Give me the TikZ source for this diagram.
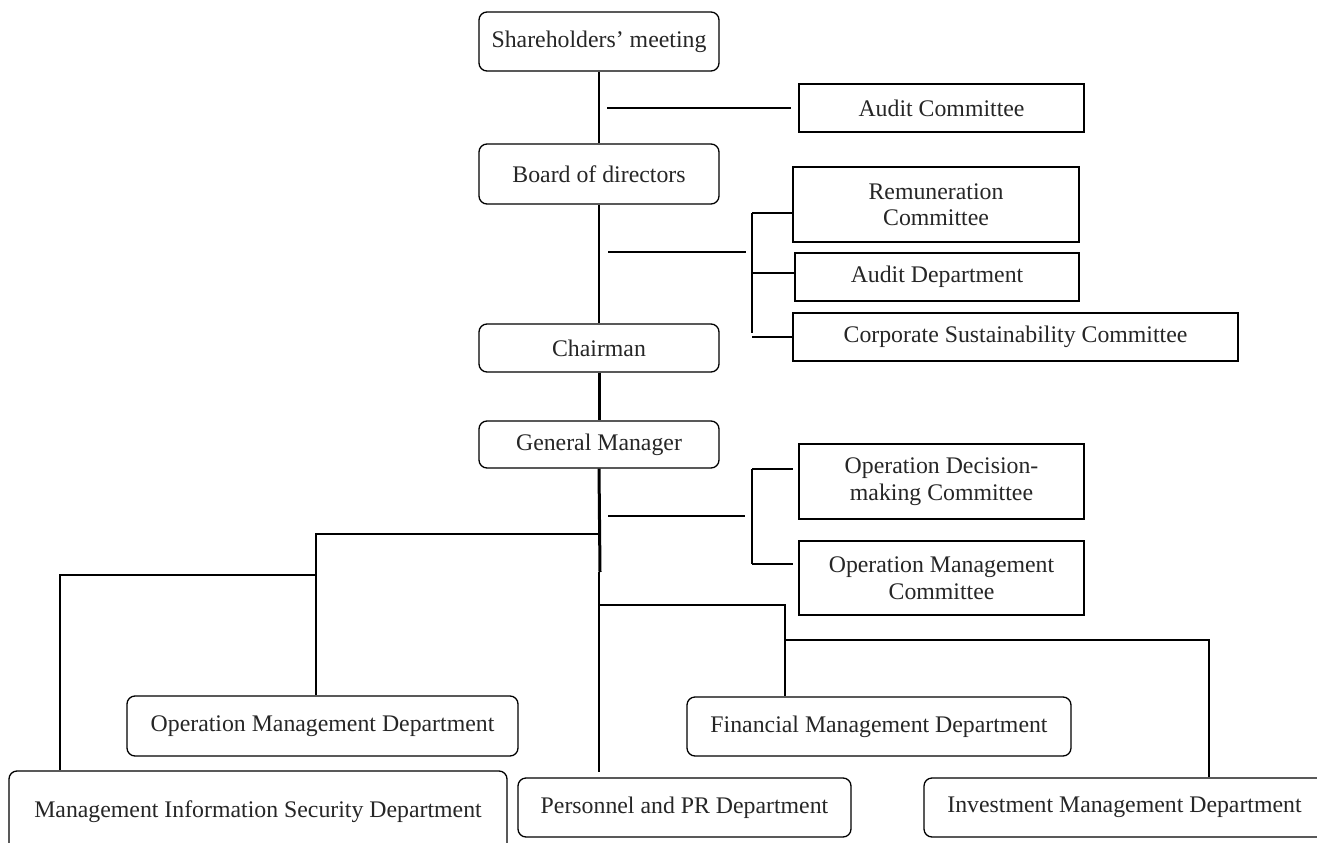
\documentclass[tikz,border=0pt]{standalone}
\usepackage{fontspec}
\setmainfont{Liberation Serif}
\begin{document}
\begin{tikzpicture}[x=1pt,y=-1pt,
  every node/.style={font=\fontsize{23.8}{26.5}\selectfont, align=center, inner sep=0pt, text=black!85},
  rbox/.style={draw, line width=1.3pt, rounded corners=8pt},
  sbox/.style={draw, line width=1.3pt},
  conn/.style={line width=1.3pt},
  thickconn/.style={line width=3pt}]
\clip (0,0) rectangle (1317,843);
\fill[white] (0,0) rectangle (1317,843);
% nodes
\node[rbox, minimum width=240pt, minimum height=59pt] (sh) at (599,41.5) {Shareholders’ meeting};
\node[sbox, minimum width=285pt, minimum height=48pt] (ac) at (941.5,108) {Audit Committee};
\node[rbox, minimum width=240pt, minimum height=60pt] (bd) at (599,174) {Board of directors};
\node[sbox, minimum width=286pt, minimum height=75pt] (rc) at (936,204.5) {Remuneration\\Committee};
\node[sbox, minimum width=284pt, minimum height=48pt] (ad) at (937,277) {Audit Department};
\node[sbox, minimum width=445pt, minimum height=48pt] (cs) at (1015.5,337) {Corporate Sustainability Committee};
\node[rbox, minimum width=240pt, minimum height=48pt] (ch) at (599,348) {Chairman};
\node[rbox, minimum width=240pt, minimum height=47pt] (gm) at (599,444.5) {General Manager};
\node[sbox, minimum width=285pt, minimum height=75pt] (odc) at (941.5,481.5) {Operation Decision-\\making Committee};
\node[sbox, minimum width=285pt, minimum height=74pt] (omc) at (941.5,578) {Operation Management\\Committee};
\node[rbox, minimum width=391pt, minimum height=60pt] (omd) at (322.5,726) {Operation Management Department};
\node[rbox, minimum width=498pt, minimum height=82pt] (misd) at (258,812) {Management Information Security Department};
\node[rbox, minimum width=384pt, minimum height=59pt] (fmd) at (879,726.5) {Financial Management Department};
\node[rbox, minimum width=333pt, minimum height=59pt] (ppr) at (684.5,807.5) {Personnel and PR Department};
\node[rbox, minimum width=401pt, minimum height=59pt] (imd) at (1124.5,807.5) {Investment Management Department};
% coordinates
\coordinate (a1) at (607,108); \coordinate (a2) at (791,108);
\coordinate (b1) at (608,252); \coordinate (b2) at (746,252);
\coordinate (bt) at (752,213); \coordinate (bm) at (752,273); \coordinate (bb) at (752,333); \coordinate (bb2) at (752,337);
\coordinate (o1) at (608,516); \coordinate (o2) at (745,516);
\coordinate (ot) at (752,469); \coordinate (ob) at (752,564);
\coordinate (s1) at (600,572); \coordinate (s2) at (599,572); \coordinate (s3) at (599,772);
\coordinate (l1) at (600,534); \coordinate (l2) at (316,534); \coordinate (l3) at (316,575); \coordinate (l4) at (60,575);
\coordinate (r1) at (599,605); \coordinate (r2) at (785,605); \coordinate (r3) at (785,640); \coordinate (r4) at (1209,640);
% connectors
\draw[conn] (sh.south) -- (bd.north);
\draw[conn] (a1) -- (a2);
\draw[conn] (bd.south) -- (ch.north);
\draw[conn] (b1) -- (b2);
\draw[conn] (bt) -- (bb);
\draw[conn] (bt) -- (bt -| rc.west);
\draw[conn] (bm) -- (bm -| ad.west);
\draw[conn] (bb2) -- (bb2 -| cs.west);
\draw[thickconn] (ch.south) -- (gm.north);
\draw[thickconn] (gm.south) -- (s1);
\draw[conn] (s2) -- (s3);
\draw[conn] (o1) -- (o2);
\draw[conn] (ot) -- (ob);
\draw[conn] (ot) -- ++(41,0);
\draw[conn] (ob) -- ++(41,0);
\draw[conn] (l1) -- (l2) -- (l2 |- omd.north);
\draw[conn] (l3) -- (l4) -- (l4 |- misd.north);
\draw[conn] (r1) -- (r2) -- (r2 |- fmd.north);
\draw[conn] (r3) -- (r4) -- (r4 |- imd.north);
\end{tikzpicture}
\end{document}
